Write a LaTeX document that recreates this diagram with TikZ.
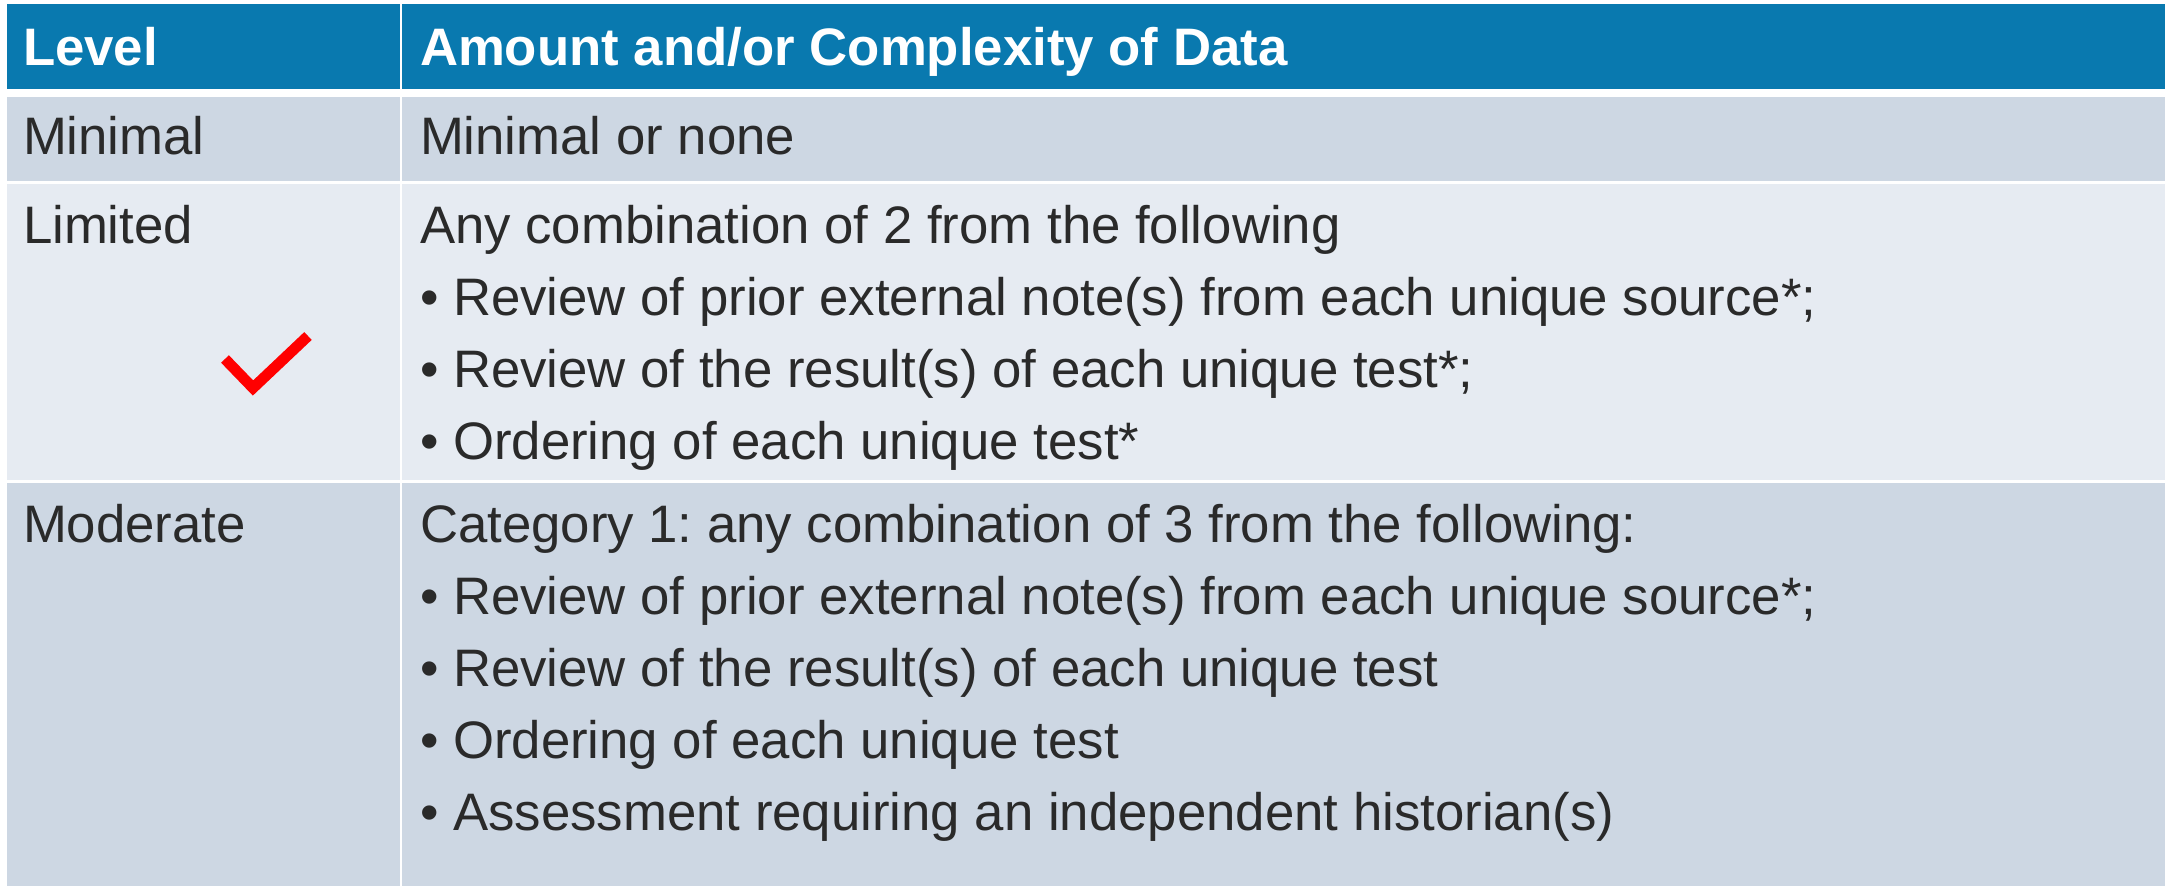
\documentclass[tikz,border=0pt]{standalone}
\usepackage{fontspec}
\setmainfont{Liberation Sans}
\frenchspacing
\definecolor{hdrblue}{HTML}{0979AF}
\definecolor{rowdark}{HTML}{CDD7E3}
\definecolor{rowlight}{HTML}{E6EBF2}
\definecolor{inkgray}{HTML}{2A2A2A}
\definecolor{tickred}{HTML}{FF0000}

\begin{document}
\begin{tikzpicture}
        [x=0.01cm, y=-0.01cm,
        every node/.style={inner sep=0pt, outer sep=0pt},
        cell/.style={rectangle, anchor=north west},
        hdrtext/.style={anchor=base west, text=white, font=\fontsize{15pt}{20.5pt}\selectfont\bfseries},
        bodytext/.style={anchor=base west, text=inkgray, font=\fontsize{15pt}{20.5pt}\selectfont}]

    \useasboundingbox (0,0) rectangle (2165,886);

    \node[cell, fill=hdrblue, minimum width=3.93cm, minimum height=0.85cm] (hlevel) at (7,4) {};
    \node[cell, fill=hdrblue, minimum width=17.63cm, minimum height=0.85cm] (hdata) at (402,4) {};
    \node[cell, fill=rowdark, minimum width=3.93cm, minimum height=0.84cm] (minlevel) at (7,97) {};
    \node[cell, fill=rowdark, minimum width=17.63cm, minimum height=0.84cm] (mindata) at (402,97) {};
    \node[cell, fill=rowlight, minimum width=3.93cm, minimum height=2.96cm] (limlevel) at (7,184) {};
    \node[cell, fill=rowlight, minimum width=17.63cm, minimum height=2.96cm] (limdata) at (402,184) {};
    \node[cell, fill=rowdark, minimum width=3.93cm, minimum height=4.03cm] (modlevel) at (7,483) {};
    \node[cell, fill=rowdark, minimum width=17.63cm, minimum height=4.03cm] (moddata) at (402,483) {};

    \node[hdrtext] (tlevel) at (23,66) {Level};
    \node[hdrtext] (tdata) at (420,66) {Amount and/or Complexity of Data};

    \node[bodytext] (tminimal) at (23,155) {Minimal};
    \node[bodytext] (tnone) at (420,155) {Minimal or none};

    \node[bodytext] (tlimited) at (23,244) {Limited};
    \foreach \txt [count=\i from 0] in
      {{Any combination of 2 from the following},
       {• Review of prior external note(s) from each unique source*;},
       {• Review of the result(s) of each unique test*;},
       {• Ordering of each unique test*}}
      \node[bodytext] (tlim\i) at (420,{244+72*\i}) {\txt};

    \node[bodytext] (tmoderate) at (23,543) {Moderate};
    \foreach \txt [count=\i from 0] in
      {{Category 1: any combination of 3 from the following:},
       {• Review of prior external note(s) from each unique source*;},
       {• Review of the result(s) of each unique test},
       {• Ordering of each unique test},
       {• Assessment requiring an independent historian(s)}}
      \node[bodytext] (tmod\i) at (420,{543+72*\i}) {\txt};

    \draw[tickred, line width=0.108cm, line join=miter] (225,359) -- (253,388) -- (308,336);
\end{tikzpicture}
\end{document}
